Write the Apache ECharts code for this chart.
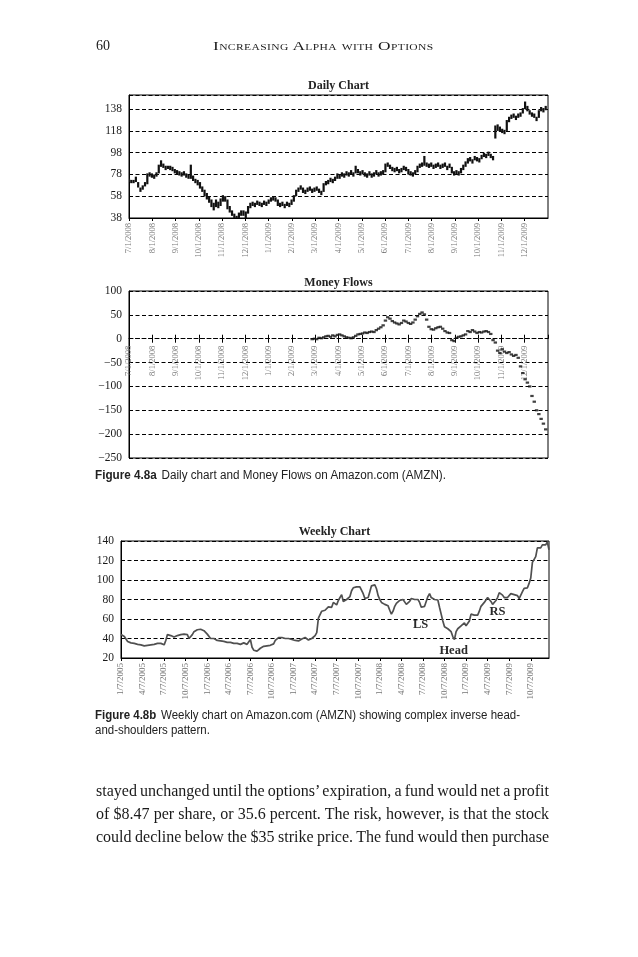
<!DOCTYPE html>
<html><head><meta charset="utf-8">
<script src="https://cdn.jsdelivr.net/npm/echarts@6/dist/echarts.min.js"></script>
<style>
html,body{margin:0;padding:0;background:#fff;}
#page{position:relative;width:638px;height:957px;overflow:hidden;background:#fff;}
#chart{position:absolute;left:0;top:0;width:638px;height:957px;}
.t{position:absolute;white-space:nowrap;line-height:1;color:#1a1a1a;transform-origin:0 0;}
.serif{font-family:'Liberation Serif','DejaVu Serif',serif;}
.sans{font-family:'Liberation Sans','Arial',sans-serif;color:#222;}
.sans b{font-weight:bold;margin-right:5px;}
</style></head>
<body><div id="page"><div id="chart"></div>
<div class="t serif" id="pgnum" style="left:96px;top:39px;font-size:14px;">60</div>
<div class="t serif" id="runhead" style="left:213px;top:39px;font-size:13.5px;font-variant:small-caps;letter-spacing:0.3px;">Increasing Alpha with Options</div>
<div class="t sans" id="capA" style="left:95px;top:469px;font-size:12px;"><b>Figure 4.8a</b>Daily chart and Money Flows on Amazon.com (AMZN).</div>
<div class="t sans" id="capB1" style="left:95px;top:709px;font-size:12px;"><b>Figure 4.8b</b>Weekly chart on Amazon.com (AMZN) showing complex inverse head-</div>
<div class="t sans" id="capB2" style="left:95px;top:724px;font-size:12px;">and-shoulders pattern.</div>
<div class="t serif" id="body1" style="left:96px;top:782.6px;font-size:16px;">stayed unchanged until the options’ expiration, a fund would net a profit</div>
<div class="t serif" id="body2" style="left:96px;top:805.6px;font-size:16px;">of $8.47 per share, or 35.6 percent. The risk, however, is that the stock</div>
<div class="t serif" id="body3" style="left:96px;top:828.6px;font-size:16px;">could decline below the $35 strike price. The fund would then purchase</div>
</div>
<script>
// ---------- DATA ----------
const dailyTickLabels = ['7/1/2008','8/1/2008','9/1/2008','10/1/2008','11/1/2008','12/1/2008','1/1/2009','2/1/2009','3/1/2009','4/1/2009','5/1/2009','6/1/2009','7/1/2009','8/1/2009','9/1/2009','10/1/2009','11/1/2009','12/1/2009'];
const weeklyTickLabels = ['1/7/2005','4/7/2005','7/7/2005','10/7/2005','1/7/2006','4/7/2006','7/7/2006','10/7/2006','1/7/2007','4/7/2007','7/7/2007','10/7/2007','1/7/2008','4/7/2008','7/7/2008','10/7/2008','1/7/2009','4/7/2009','7/7/2009','10/7/2009'];
const dailyYTicks = [38,58,78,98,118,138];

// daily bars: one sample every 3 calendar days starting 7/1/2008
const DAILY_START = 0, DAILY_STEP = 3;
const dailyLow = [71,70,70,71,66,62,64,67,69,76,75,74,76,79,85,84,82,83,82,81,79,78,77,76,77,75,74,74,72,70,68,65,62,58,55,52,48,45,48,47,49,53,53,46,43,40,37,35,38,40,40,38,42,47,49,48,50,49,48,50,49,51,53,54,53,49,48,49,47,49,48,50,53,58,62,64,61,60,62,63,61,62,63,61,59,62,68,69,71,70,72,74,74,76,75,77,76,78,76,79,79,77,78,76,75,77,75,76,78,76,77,78,80,85,83,81,80,81,79,80,82,81,78,77,76,78,80,84,85,86,85,84,85,83,84,85,83,84,85,82,84,79,77,78,77,79,82,85,88,90,88,91,90,89,92,94,93,95,93,91,111,118,117,116,115,118,126,129,130,128,130,131,134,138,136,133,131,130,127,130,136,135,137];
const dailyHigh = [74,73,73,76,71,66,68,71,79,80,79,78,80,87,91,88,86,86,86,85,83,82,81,80,81,79,78,87,77,74,73,71,67,64,61,58,55,52,55,53,56,59,58,55,49,45,42,40,43,45,45,44,49,52,53,52,54,53,52,54,53,55,57,58,57,55,52,53,51,53,52,55,59,64,66,68,66,64,66,67,65,66,67,65,63,70,72,73,75,74,76,79,78,80,79,81,80,82,80,86,83,81,82,80,79,81,79,80,82,80,81,82,88,89,87,85,84,85,83,84,86,85,83,81,80,82,86,88,89,95,89,88,89,87,88,89,87,88,89,86,88,85,81,82,81,84,87,90,93,94,92,95,94,93,96,98,97,99,97,95,123,124,122,120,119,128,131,133,134,132,134,135,139,145,141,137,135,134,131,137,140,139,141];

// money flows: one sample every 3 calendar days starting 2/26/2009
const MONEY_START = 240, MONEY_STEP = 3;
const moneyFlow = [-1,0,-1,2,1,3,5,6,4,7,5,8,9,7,5,3,2,1,3,6,9,10,11,13,12,14,15,14,18,21,24,28,38,45,42,37,34,32,30,33,38,36,33,31,34,40,47,52,55,51,40,25,20,19,22,24,25,21,16,13,12,-3,-5,2,4,5,7,9,16,14,18,15,12,14,13,15,16,14,10,-3,-8,-25,-30,-22,-27,-30,-28,-33,-36,-34,-40,-58,-72,-85,-92,-100,-120,-132,-150,-158,-168,-178,-190];

// weekly closes from 1/7/2005
const weeklyClose = [44,44.5,42,39.5,37,36,35.5,35.5,35,34.5,34,34,33.5,33,32.5,32,33,34,33.5,33,34,35,35,35.5,35,34,33.5,38,44,45,43,42.5,41.5,42,43,43,44,45,44.5,45,44,40,39.5,44,47,48.5,49,49,49.5,48.5,48,46,44.5,44,40,39,40,38.5,38,38.5,37.5,37,37,36.5,36,36.5,36,36.5,35,34.5,35,33,34,35,35.5,36,34,36,39,31,28,27,27,28.5,30,31.5,32,32,32.5,32,33,34,34.5,38,40,41,42,41,39.5,40,40.5,40,39.5,39,38.5,38,37,37.5,38.5,39.5,40,41,40,38.5,39,40,42,43,46,61,
62,68,70,69,71,72.5,71,72,77,76,74.5,79,80,85,78,79.5,80,80,83,89,92,93,93,92.5,93,91,86,81,80,82,88,94,92,95,91,84,80,77,76,75,74.5,73.5,69,65,68,73,76,75,79,79,80,79,75,75,78,81,80.5,80,81,80,77,72,70,73,75,83,86,82,80,80,80,79.5,72,65,58,52,54,50,52,47,42,39,47,50,52,53,54,56,53,51,58,65,64,64,65,64,68,73,75,77,79,82,80,78,75,76,79,82,87,85,84.5,82,84,82,80,86,85,85,84.5,84,81,82,88,91.5,90,92,96.5,102,118,120,124,133,134,133,136,138,136,139,131];

const annotations = [
  {name:'LS', coord:[180.6, 54]},
  {name:'RS', coord:[227, 67.5]},
  {name:'Head', coord:[200.5, 27.5]}
];

// ---------- CHART ----------
const serif = "'Liberation Serif','DejaVu Serif',serif";
const dash = {type:[4,2.5], color:'#000', width:1};
const axisLineStyle = {color:'#000', width:1};

const MONEY_MIN = -250, MONEY_MAX = 100;
const moneyGrid = {left:129, top:291, width:419, height:167};
// shift the money-flow date axis from the bottom edge up to the zero line
const moneyZeroOffset = -moneyGrid.height * (0 - MONEY_MIN) / (MONEY_MAX - MONEY_MIN);

const dailyData = dailyLow.map((lo, i) => [DAILY_START + i*DAILY_STEP, lo, dailyHigh[i]]);
const moneyData = moneyFlow.map((v, i) => [MONEY_START + i*MONEY_STEP, v]);
const weeklyData = weeklyClose.map((v, i) => [i, v]);

function isMult(v, base, step){ const k=(v-base)/step; return Math.abs(k-Math.round(k))<1e-6; }
function dailyXFmt(v){ if(!isMult(v,0,30.5)) return ''; const s = dailyTickLabels[Math.round(v/30.5)]; return s || ''; }
function weeklyXFmt(v){ if(!isMult(v,0,13)) return ''; const s = weeklyTickLabels[Math.round(v/13)]; return s || ''; }
function minusFmt(v){ return v<0 ? '\u2212' + (-v) : String(v); }

const xLabel = (margin, size) => ({show:true, rotate:90, margin:margin, fontSize:size, fontFamily:serif, color:'#777', showMaxLabel:false});
const yLabel = (fmt) => ({show:true, margin:7, fontSize:11.5, fontFamily:serif, color:'#1a1a1a', formatter:fmt});

const option = {
  animation:false,
  backgroundColor:'#fff',
  grid:[
    {left:129, top:95, width:419, height:123, show:true, borderColor:'#000', borderWidth:1, backgroundColor:'transparent'},
    Object.assign({show:true, borderColor:'#000', borderWidth:1, backgroundColor:'transparent'}, moneyGrid),
    {left:121, top:541, width:428, height:117, show:true, borderColor:'#000', borderWidth:1, backgroundColor:'transparent'}
  ],
  xAxis:[
    {type:'value', gridIndex:0, min:0, max:549, interval:30.5, position:'bottom',
     axisLine:{show:true, lineStyle:axisLineStyle}, axisTick:{show:true, length:3, lineStyle:axisLineStyle},
     splitLine:{show:false}, axisLabel:Object.assign(xLabel(5,8.5), {formatter:dailyXFmt})},
    {type:'value', gridIndex:1, min:0, max:549, interval:30.5, position:'bottom', offset:moneyZeroOffset,
     axisLine:{show:true, onZero:false, lineStyle:{type:[4,2.5], color:'#000', width:1}},
     axisTick:{show:true, length:4, lineStyle:axisLineStyle},
     splitLine:{show:false}, axisLabel:Object.assign(xLabel(7,8.5), {formatter:dailyXFmt})},
    {type:'value', gridIndex:1, min:0, max:549, interval:30.5, position:'bottom', offset:moneyZeroOffset,
     axisLine:{show:false, onZero:false},
     axisTick:{show:true, inside:true, length:4, lineStyle:axisLineStyle},
     splitLine:{show:false}, axisLabel:{show:false}},
    {type:'value', gridIndex:2, min:0, max:258, interval:13, position:'bottom',
     axisLine:{show:true, lineStyle:axisLineStyle}, axisTick:{show:true, length:3, lineStyle:axisLineStyle},
     splitLine:{show:false}, axisLabel:Object.assign(xLabel(5,9), {formatter:weeklyXFmt})}
  ],
  yAxis:[
    {type:'value', gridIndex:0, min:38, max:151, interval:20,
     axisLine:{show:true, lineStyle:axisLineStyle}, axisTick:{show:false},
     splitLine:{show:true, lineStyle:dash},
     axisLabel:yLabel(v => dailyYTicks.some(t => Math.abs(t-v)<1e-6) ? String(v) : '')},
    {type:'value', gridIndex:1, min:MONEY_MIN, max:MONEY_MAX, interval:50,
     axisLine:{show:true, onZero:false, lineStyle:axisLineStyle}, axisTick:{show:false},
     splitLine:{show:true, lineStyle:dash}, axisLabel:yLabel(minusFmt)},
    {type:'value', gridIndex:2, min:20, max:140, interval:20,
     axisLine:{show:true, onZero:false, lineStyle:axisLineStyle}, axisTick:{show:false},
     splitLine:{show:true, lineStyle:dash}, axisLabel:yLabel(v => String(v))}
  ],
  series:[
    {type:'custom', xAxisIndex:0, yAxisIndex:0, data:dailyData, encode:{x:0, y:[1,2]}, clip:true,
     renderItem:function(params, api){
       const x = api.value(0), lo = api.value(1), hi = api.value(2);
       const p1 = api.coord([x, lo]), p2 = api.coord([x, hi]);
       return {type:'line', shape:{x1:p1[0], y1:p1[1], x2:p2[0], y2:p2[1]}, style:{stroke:'#111', lineWidth:2.2}};
     }},
    {type:'scatter', xAxisIndex:1, yAxisIndex:1, data:moneyData, symbol:'rect', symbolSize:[3.4,2.2],
     itemStyle:{color:'#111'}},
    {type:'line', xAxisIndex:3, yAxisIndex:2, data:weeklyData, showSymbol:false, symbol:'none',
     lineStyle:{color:'#505050', width:1.7}, itemStyle:{color:'#505050'},
     markPoint:{symbol:'circle', symbolSize:1, itemStyle:{color:'rgba(0,0,0,0)'},
       label:{show:true, position:'inside', formatter:'{b}', fontFamily:serif, fontWeight:'bold', fontSize:12.5, color:'#2a2a2a'},
       data:annotations.map(a => ({name:a.name, coord:a.coord}))}}
  ],
  graphic:[
    {type:'text', x:338.5, y:85.5, style:{text:'Daily Chart', font:"bold 12px 'Liberation Serif'", fill:'#222', align:'center', verticalAlign:'middle', textAlign:'center', textVerticalAlign:'middle'}},
    {type:'text', x:338.5, y:282.5, style:{text:'Money Flows', font:"bold 12px 'Liberation Serif'", fill:'#222', align:'center', verticalAlign:'middle', textAlign:'center', textVerticalAlign:'middle'}},
    {type:'text', x:334.5, y:531.5, style:{text:'Weekly Chart', font:"bold 12px 'Liberation Serif'", fill:'#222', align:'center', verticalAlign:'middle', textAlign:'center', textVerticalAlign:'middle'}}
  ]
};

const chart = echarts.init(document.getElementById('chart'), null, {renderer:'canvas'});
chart.setOption(option);

// ---------- PAGE TEXT FITTING ----------
function natWidth(el){ el.style.transform=''; return el.getBoundingClientRect().width; }
function fitScale(id, w){ const el=document.getElementById(id); const s=w/natWidth(el); el.style.transform='scaleX('+s+')'; return s; }
function justify(id, w){ const el=document.getElementById(id); el.style.wordSpacing='0px'; const nat=el.getBoundingClientRect().width; const n=(el.textContent.match(/ /g)||[]).length; el.style.wordSpacing=((w-nat)/n)+'px'; }
fitScale('runhead', 220.6);
fitScale('capA', 351);
const sB = fitScale('capB1', 425);
document.getElementById('capB2').style.transform='scaleX('+sB+')';
justify('body1', 453);
justify('body2', 453);
justify('body3', 453);
</script>
</body></html>
